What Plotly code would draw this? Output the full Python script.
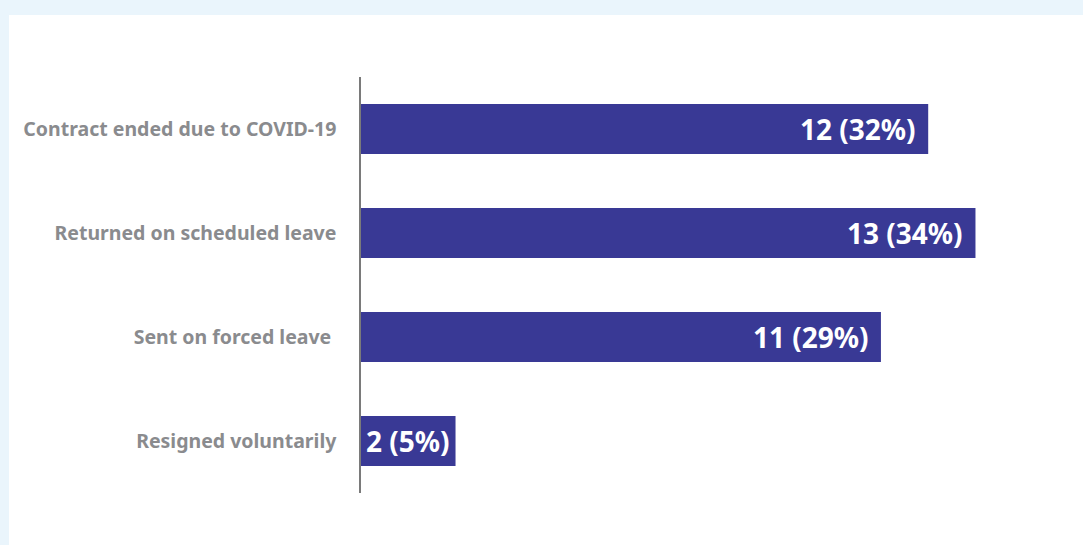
import plotly.graph_objects as go

categories = ["Contract ended due to COVID-19", "Returned on scheduled leave",
              "Sent on forced leave\u00a0", "Resigned voluntarily"]
counts = [12, 13, 11, 2]
percents = [32, 34, 29, 5]
labels = [f"{c} ({p}%)" for c, p in zip(counts, percents)]

W, H = 1083, 545
x0_px, x_end_px = 361, 1070
y_top_px, y_bot_px = 77, 493
units = 15.0

BAR = "#393995"

fig = go.Figure(go.Bar(
    x=counts, y=categories, orientation="h",
    marker=dict(color=BAR, line=dict(width=0)),
    width=0.48, hoverinfo="skip",
))

for c, cat, lab in zip(counts, categories, labels):
    fig.add_annotation(x=c, y=cat, text=lab, showarrow=False, xanchor="right",
                       yanchor="middle", xshift=(-10 if c > 3 else -4), yshift=0,
                       font=dict(family="Noto Sans", size=28, color="white", weight="bold"))

pw = x_end_px - x0_px
ph = y_bot_px - y_top_px
fig.add_shape(type="rect", xref="paper", yref="paper",
              x0=(9 - x0_px) / pw, x1=(W - x0_px) / pw,
              y0=-(H - y_bot_px) / ph,
              y1=(H - 15 - (H - y_bot_px)) / ph,
              fillcolor="white", line=dict(width=0), layer="below")

fig.update_layout(
    width=W, height=H,
    margin=dict(l=x0_px, r=W - x_end_px, t=y_top_px, b=H - y_bot_px, autoexpand=False),
    paper_bgcolor="#EAF5FC", plot_bgcolor="rgba(0,0,0,0)",
    showlegend=False,
    xaxis=dict(range=[0, units], visible=False, fixedrange=True),
    yaxis=dict(categoryorder="array", categoryarray=categories, autorange="reversed",
               showline=True, linecolor="#7a7a7a", linewidth=1.5,
               ticks="outside", ticklen=19, tickcolor="rgba(0,0,0,0)",
               showgrid=False, zeroline=False,
               tickfont=dict(family="Noto Sans", size=19.5, color="#8a8b8e", weight="bold")),
)

fig.write_html("out.html", config={"displayModeBar": False},
               post_script="document.body.style.margin='0';document.body.style.overflow='hidden';")
